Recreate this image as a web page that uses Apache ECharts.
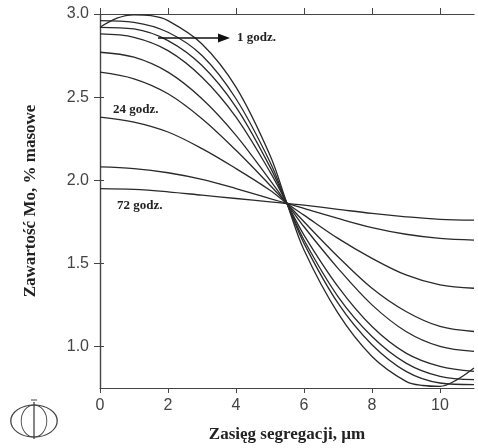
<!DOCTYPE html>
<html><head><meta charset="utf-8">
<script src="https://cdn.jsdelivr.net/npm/echarts@6/dist/echarts.min.js"></script>
<style>html,body{margin:0;padding:0;background:#fff}#c{width:478px;height:448px}</style>
</head><body><div id="c"></div>
<script>
const xTicks = [0, 2, 4, 6, 8, 10];
const yTicks = [1.0, 1.5, 2.0, 2.5, 3.0];
const xs = [0, 1, 2, 3, 4, 5, 5.5, 6, 7, 8, 9, 10, 11];
const curve72h = [1.95, 1.945, 1.93, 1.91, 1.89, 1.87, 1.86, 1.85, 1.825, 1.80, 1.78, 1.765, 1.76];
const curveB = [2.08, 2.07, 2.045, 2.005, 1.95, 1.89, 1.86, 1.83, 1.77, 1.715, 1.675, 1.65, 1.64];
const curve24h = [2.38, 2.35, 2.29, 2.19, 2.07, 1.94, 1.86, 1.79, 1.65, 1.53, 1.43, 1.37, 1.35];
const curveD = [2.65, 2.61, 2.52, 2.37, 2.18, 1.97, 1.86, 1.75, 1.54, 1.35, 1.21, 1.12, 1.09];
const curveE = [2.77, 2.74, 2.65, 2.49, 2.27, 2.00, 1.86, 1.72, 1.47, 1.25, 1.09, 1.00, 0.97];
const curveF = [2.88, 2.86, 2.78, 2.62, 2.38, 2.05, 1.86, 1.67, 1.36, 1.12, 0.96, 0.88, 0.85];
const curveG = [2.92, 2.91, 2.84, 2.69, 2.44, 2.08, 1.86, 1.64, 1.30, 1.06, 0.90, 0.82, 0.80];
const curveH = [2.96, 2.95, 2.89, 2.75, 2.49, 2.11, 1.86, 1.62, 1.26, 1.01, 0.85, 0.78, 0.77];
const xs1h = [0, 0.5, 1, 1.5, 2, 3, 4, 5, 5.5, 6, 7, 8, 9, 9.5, 10, 10.5, 11];
const curve1h = [2.92, 2.975, 2.995, 2.99, 2.96, 2.82, 2.56, 2.15, 1.86, 1.58, 1.20, 0.94, 0.79, 0.765, 0.76, 0.80, 0.87];
const xTitle = 'Zasięg segregacji, µm';
const yTitle = 'Zawartość Mo, % masowe';

const chart = echarts.init(document.getElementById('c'));
const lineCol = '#2a2a2a';
const mk = (xv, yv) => ({
  type: 'line', data: xv.map((x, i) => [x, yv[i]]), smooth: 0.35, symbol: 'none',
  lineStyle: { color: lineCol, width: 1.3 }, silent: true, z: 3
});
const seriesList = [curve72h, curveB, curve24h, curveD, curveE, curveF, curveG, curveH].map(v => mk(xs, v));
seriesList.push(mk(xs1h, curve1h));
const serif = '"Liberation Serif", "DejaVu Serif", serif';
const sans = '"Liberation Sans", Arial, sans-serif';
const axLine = { show: true, lineStyle: { color: '#444', width: 1.2 } };
chart.setOption({
  animation: false,
  backgroundColor: '#fff',
  grid: { left: 100, right: 4, top: 14, bottom: 57 },
  xAxis: [{
    type: 'value', min: 0, max: 11, position: 'bottom',
    axisLine: axLine,
    axisTick: { show: true, inside: false, length: 5, customValues: xTicks, lineStyle: { color: '#444' } },
    axisLabel: { customValues: xTicks, color: '#444', fontFamily: sans, fontSize: 16, margin: 10 },
    splitLine: { show: false },
    name: xTitle, nameLocation: 'middle', nameGap: 38,
    nameTextStyle: { fontFamily: serif, fontWeight: 'bold', fontSize: 17, color: '#222' }
  }, {
    type: 'value', min: 0, max: 11, position: 'top',
    axisLine: axLine,
    axisTick: { show: true, inside: false, length: 6, customValues: xTicks, lineStyle: { color: '#444' } },
    axisLabel: { show: false }, splitLine: { show: false }
  }],
  yAxis: [{
    type: 'value', min: 0.75, max: 3.0, position: 'left',
    axisLine: axLine,
    axisTick: { show: true, inside: false, length: 6, customValues: yTicks, lineStyle: { color: '#444' } },
    axisLabel: { customValues: yTicks, color: '#444', fontFamily: sans, fontSize: 16, margin: 11,
      formatter: v => v.toFixed(1) },
    splitLine: { show: false },
    name: yTitle, nameLocation: 'middle', nameGap: 61, nameRotate: 90,
    nameTextStyle: { fontFamily: serif, fontWeight: 'bold', fontSize: 17, color: '#222' }
  }, {
    type: 'value', min: 0.75, max: 3.0, position: 'right',
    axisLine: axLine,
    axisTick: { show: true, inside: false, length: 4, customValues: yTicks, lineStyle: { color: '#444' } },
    axisLabel: { show: false }, splitLine: { show: false }
  }],
  series: seriesList,
  graphic: [
    { type: 'line', shape: { x1: 158, y1: 38, x2: 220, y2: 38 }, style: { stroke: '#111', lineWidth: 1.5 }, z: 10 },
    { type: 'polygon', shape: { points: [[218, 33.5], [230, 38], [218, 42.5]] }, style: { fill: '#111' }, z: 10 },
    { type: 'text', left: 237, top: 31, style: { text: '1 godz.', font: 'bold 13px ' + serif, fill: '#222' }, z: 10 },
    { type: 'text', left: 113, top: 103, style: { text: '24 godz.', font: 'bold 13px ' + serif, fill: '#222' }, z: 10 },
    { type: 'text', left: 117, top: 199, style: { text: '72 godz.', font: 'bold 13px ' + serif, fill: '#222' }, z: 10 },
    { type: 'circle', shape: { cx: 0, cy: 0, r: 16 }, x: 34, y: 421, scaleX: 1.45, scaleY: 1,
      style: { fill: 'none', stroke: '#444', lineWidth: 0.9 } },
    { type: 'circle', shape: { cx: 0, cy: 0, r: 16 }, x: 34, y: 421, scaleX: 0.8, scaleY: 1,
      style: { fill: 'none', stroke: '#444', lineWidth: 1.1 } },
    { type: 'line', shape: { x1: 34, y1: 402, x2: 34, y2: 439 }, style: { stroke: '#444', lineWidth: 1.3 } },
    { type: 'line', shape: { x1: 31, y1: 400, x2: 37, y2: 400 }, style: { stroke: '#444', lineWidth: 1 } }
  ]
});
</script>
</body></html>
